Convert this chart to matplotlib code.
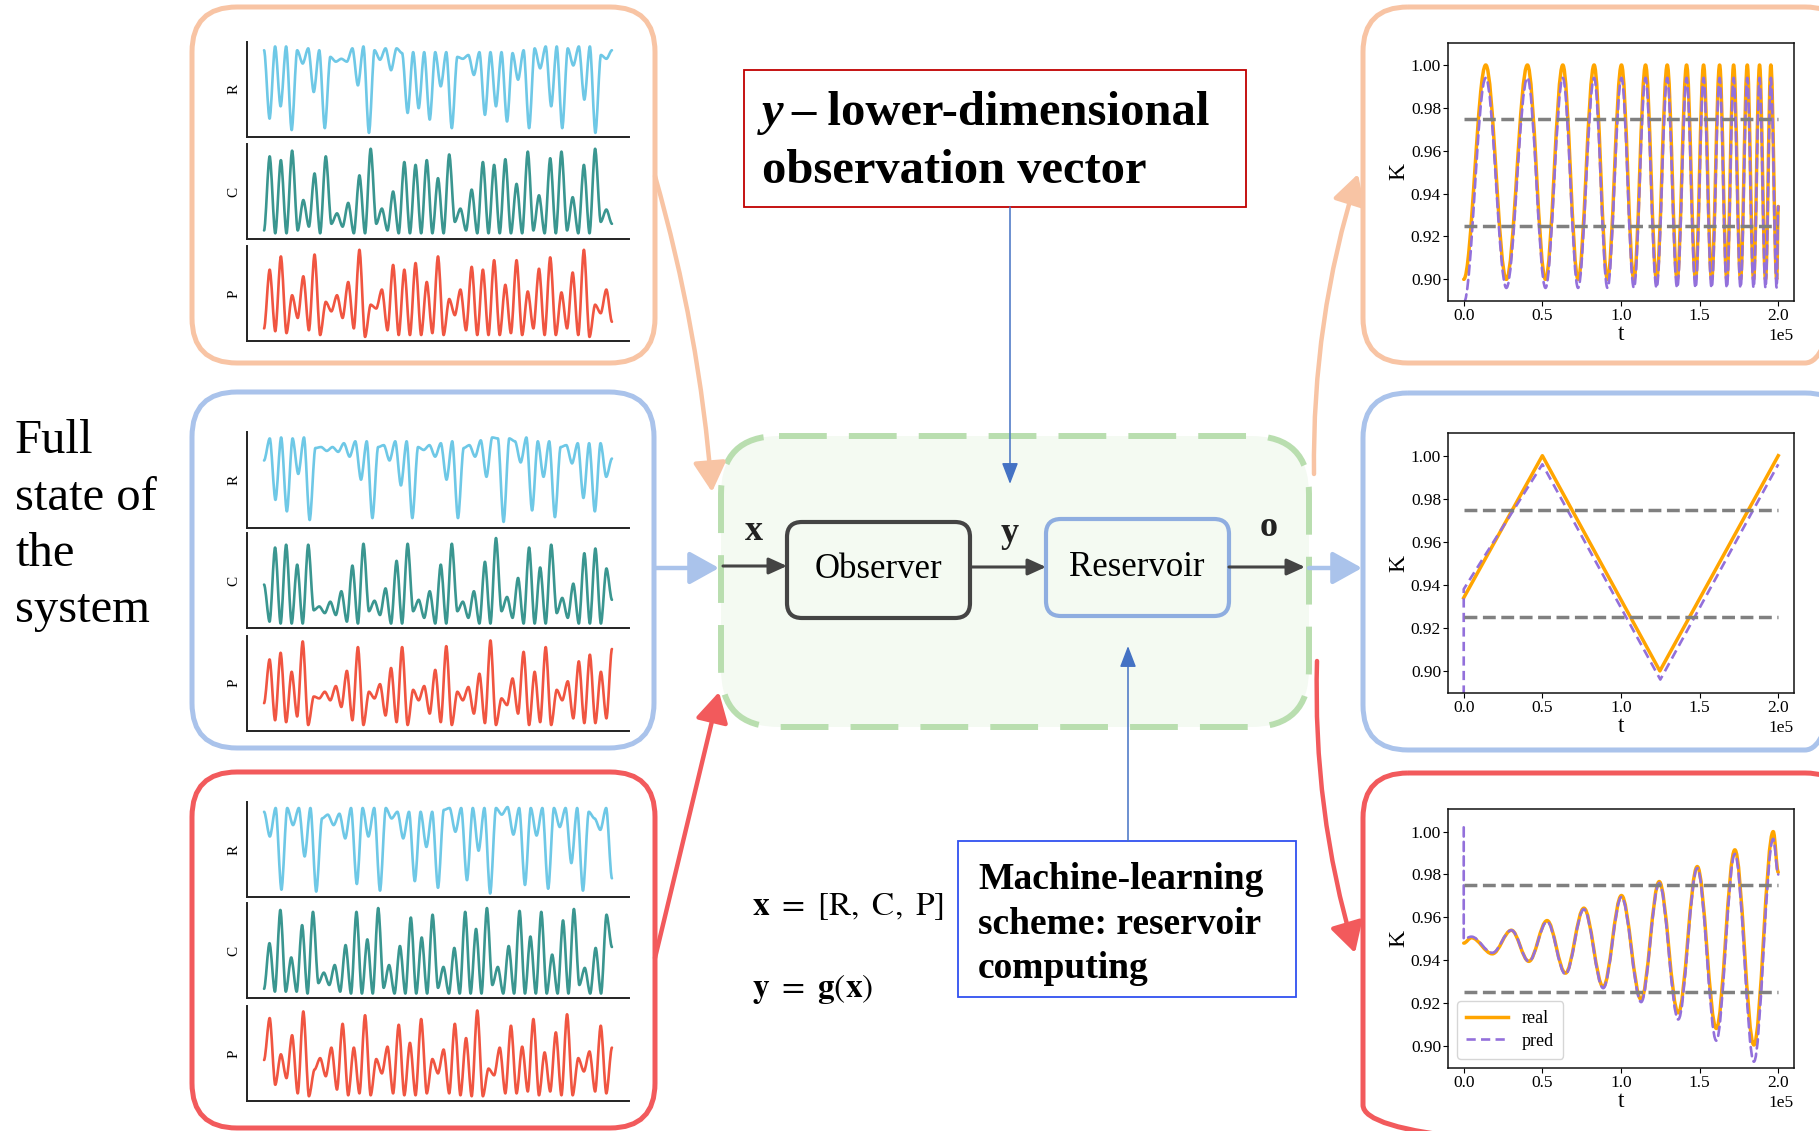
import numpy as np
import matplotlib
matplotlib.use('Agg')
import matplotlib.pyplot as plt
from matplotlib.patches import FancyBboxPatch, FancyArrowPatch, Rectangle, PathPatch
from matplotlib.path import Path
from matplotlib.lines import Line2D

W, H = 1819, 1131
plt.rcParams['font.family'] = ['Liberation Serif', 'DejaVu Serif']
plt.rcParams['mathtext.fontset'] = 'stix'

# ---- left panels: R, C, P traces, heights in % of the axis
r_top = [91, 19, 95, 32, 95, 7, 91, 77, 93, 47, 91, 9, 84, 79, 82, 79, 93, 54, 95, 4, 91, 81,
         93, 70, 93, 88, 25, 89, 30, 89, 18, 89, 53, 89, 9, 84, 82, 86, 65, 89, 23, 89, 32, 89,
         16, 88, 60, 91, 9, 93, 72, 95, 32, 95, 9, 93, 75, 95, 39, 95, 4, 86, 82, 91]
c_top = [9, 87, 6, 83, 6, 93, 9, 41, 13, 69, 6, 87, 16, 27, 13, 38, 6, 67, 6, 95, 16, 32, 9,
         50, 6, 81, 6, 78, 6, 83, 6, 64, 6, 89, 18, 32, 9, 52, 6, 81, 6, 78, 6, 84, 6, 58, 6,
         92, 9, 46, 6, 85, 6, 92, 9, 44, 6, 78, 6, 95, 18, 31, 16]
p_top = [13, 75, 10, 89, 8, 48, 24, 68, 11, 91, 6, 41, 31, 48, 24, 62, 13, 96, 4, 38, 34, 54,
         11, 80, 6, 75, 6, 82, 6, 62, 8, 89, 6, 44, 27, 54, 11, 78, 6, 75, 6, 85, 6, 59, 8, 85,
         6, 52, 13, 76, 6, 88, 6, 51, 13, 72, 6, 96, 4, 38, 29, 54, 20]

r_mid = [70, 93, 29, 94, 17, 93, 56, 94, 8, 83, 84, 80, 84, 79, 88, 74, 90, 50, 90, 10, 84, 86,
         70, 90, 44, 90, 10, 84, 81, 86, 74, 88, 50, 90, 10, 83, 86, 74, 91, 53, 94, 93, 6, 93,
         90, 68, 94, 18, 90, 53, 90, 11, 84, 86, 67, 88, 31, 88, 17, 88, 53, 72]
c_mid = [46, 7, 85, 5, 88, 5, 67, 5, 88, 19, 23, 16, 28, 14, 39, 7, 66, 5, 89, 18, 29, 14, 42,
         5, 71, 5, 89, 18, 30, 11, 39, 5, 67, 5, 89, 18, 28, 11, 39, 5, 70, 5, 95, 18, 33, 11,
         53, 5, 85, 5, 64, 5, 88, 16, 32, 11, 47, 5, 79, 5, 84, 5, 63, 30]
p_mid = [29, 75, 11, 82, 9, 62, 15, 94, 6, 36, 34, 41, 32, 47, 25, 63, 11, 88, 6, 41, 34, 49,
         16, 66, 9, 88, 6, 43, 32, 47, 18, 64, 9, 89, 6, 41, 32, 46, 18, 60, 8, 95, 6, 34, 27,
         55, 18, 83, 6, 62, 9, 88, 6, 43, 32, 52, 13, 73, 8, 80, 8, 62, 13, 86]

r_bot = [90, 64, 94, 8, 94, 76, 94, 43, 94, 6, 83, 87, 76, 88, 62, 94, 14, 94, 64, 94, 7, 94,
         83, 90, 62, 90, 17, 90, 53, 90, 10, 92, 94, 69, 94, 18, 94, 49, 94, 4, 94, 87, 95, 66,
         94, 13, 94, 65, 94, 9, 94, 74, 94, 36, 94, 7, 90, 83, 71, 94, 20]
c_bot = [10, 58, 7, 93, 7, 43, 7, 77, 5, 91, 16, 27, 14, 35, 7, 56, 5, 91, 5, 62, 5, 95, 11,
         35, 5, 55, 5, 85, 5, 64, 5, 88, 11, 33, 5, 53, 5, 91, 5, 73, 5, 95, 14, 33, 5, 55, 5,
         92, 5, 65, 5, 91, 5, 46, 5, 82, 5, 94, 14, 32, 5, 53, 5, 88, 54]
p_bot = [43, 87, 17, 49, 24, 69, 8, 94, 5, 33, 45, 26, 56, 12, 81, 6, 56, 8, 90, 6, 44, 29, 57,
         8, 80, 6, 61, 6, 86, 8, 44, 29, 54, 8, 81, 6, 66, 5, 95, 5, 34, 27, 56, 8, 79, 8, 57,
         10, 86, 6, 51, 10, 72, 6, 91, 6, 45, 31, 52, 10, 79, 8, 56]

state_labels = ['R', 'C', 'P']

# ---- right panels: K(t) turning points, t in units of 1e5
t_chirp = [0.000, 0.140, 0.271, 0.405, 0.520, 0.630, 0.727, 0.829, 0.914, 1.003, 1.082, 1.156,
           1.226, 1.294, 1.357, 1.417, 1.474, 1.525, 1.576, 1.627, 1.673, 1.716, 1.760, 1.803,
           1.843, 1.881, 1.919, 1.953, 1.990, 2.000]
k_chirp_real = [0.900, 1.000, 0.900, 1.000, 0.900, 1.000, 0.900, 1.000, 0.900, 1.000, 0.900,
                1.000, 0.900, 1.000, 0.900, 1.000, 0.900, 1.000, 0.900, 1.000, 0.900, 1.000,
                0.900, 1.000, 0.900, 1.000, 0.900, 1.000, 0.900, 0.934]
k_chirp_pred = [0.889, 0.994, 0.896, 0.994, 0.896, 0.994, 0.896, 0.994, 0.896, 0.994, 0.896,
                0.994, 0.896, 0.994, 0.896, 0.994, 0.896, 0.994, 0.896, 0.994, 0.896, 0.994,
                0.896, 0.994, 0.896, 0.994, 0.896, 0.994, 0.896, 0.934]

t_tri_real = [0.0, 0.5, 1.247, 2.0]
k_tri_real = [0.934, 1.000, 0.900, 1.000]
t_tri_pred = [0.0, 0.0, 0.5, 1.25, 2.0]
k_tri_pred = [0.889, 0.938, 0.996, 0.896, 0.996]

t_osc_real = [0.0, 0.049, 0.182, 0.303, 0.414, 0.530, 0.647, 0.764, 0.887, 1.003, 1.128, 1.243,
              1.364, 1.485, 1.606, 1.724, 1.845, 1.968, 2.0]
k_osc_real = [0.948, 0.9505, 0.943, 0.954, 0.9395, 0.9585, 0.934, 0.9643, 0.9276, 0.9702,
              0.9217, 0.9767, 0.9155, 0.9837, 0.9082, 0.9915, 0.9005, 1.000, 0.981]
t_osc_pred = [0.0, 0.0, 0.049, 0.182, 0.303, 0.414, 0.530, 0.647, 0.764, 0.887, 1.003, 1.128,
              1.243, 1.364, 1.485, 1.606, 1.724, 1.845, 1.968, 2.0]
k_osc_pred = [1.002, 0.950, 0.951, 0.9435, 0.954, 0.9395, 0.958, 0.9335, 0.9638, 0.927, 0.9695,
              0.9205, 0.976, 0.9124, 0.983, 0.9025, 0.9896, 0.8927, 0.9966, 0.980]

k_bands = [0.975, 0.925]

PEACH = '#F8C4A4'
LBLUE = '#AAC3EB'
RED = '#F25A5C'
GREEN = '#B9DEAF'
ORANGE = '#FFA500'
PURPLE = '#9370DB'

fig = plt.figure(figsize=(W / 100, H / 100), dpi=100)
bg = fig.add_axes([0, 0, 1, 1])
bg.set_xlim(0, W)
bg.set_ylim(H, 0)
bg.axis('off')


def px_axes(l, t, r, b):
    return fig.add_axes([l / W, 1 - b / H, (r - l) / W, (b - t) / H])


def rbox(x0, y0, x1, y1, color, lw, r, ls='-', fc='none', z=1):
    bg.add_patch(FancyBboxPatch((x0, y0), x1 - x0, y1 - y0,
                                boxstyle=f'round,pad=0,rounding_size={r}',
                                ec=color, fc=fc, lw=lw, ls=ls, zorder=z))


def arrow(a, b, color, lw, hl, hw, rad=0.0, ms=10, z=3):
    bg.add_patch(FancyArrowPatch(a, b, connectionstyle=f'arc3,rad={rad}',
                                 arrowstyle=f'-|>,head_length={hl},head_width={hw}',
                                 mutation_scale=ms, lw=lw, color=color,
                                 shrinkA=0, shrinkB=0, zorder=z))


def smooth_curve(ax, x, y, s, **kw):
    # bezier through the turning points, flat at each of them
    verts = [(x[0], y[0])]
    codes = [Path.MOVETO]
    for i in range(1, len(x)):
        d = x[i] - x[i - 1]
        verts += [(x[i - 1] + s * d, y[i - 1]), (x[i] - s * d, y[i]), (x[i], y[i])]
        codes += [Path.CURVE4] * 3
    ax.add_patch(PathPatch(Path(verts, codes), fill=False, capstyle='round',
                           joinstyle='round', **kw))


# ---- panel frames
rbox(192, 7, 655, 363, PEACH, 3.6, 45)
rbox(192, 392, 654, 748, LBLUE, 3.6, 45)
rbox(192, 772, 655, 1128, RED, 3.6, 45)
rbox(1363, 7, 1850, 363, PEACH, 3.6, 45)
rbox(1363, 393, 1850, 750, LBLUE, 3.6, 45)
rbox(1363, 773, 1850, 1150, RED, 3.6, 45)

# ---- left panels with R, C, P
left_sets = [
    ([(41.7, 136.7), (144, 239), (246, 340.7)], [r_top, c_top, p_top]),
    ([(431.7, 527.7), (533.3, 628.3), (635.7, 730.7)], [r_mid, c_mid, p_mid]),
    ([(802.3, 897.3), (903.3, 998.3), (1005.7, 1101)], [r_bot, c_bot, p_bot]),
]
trace_colors = ['#6EC8E6', '#3A9690', '#F05541']
for rows, series in left_sets:
    for (t, b), vals, col, lab in zip(rows, series, trace_colors, state_labels):
        ax = px_axes(247, t, 629, b)
        x = np.linspace(0, 1, len(vals))
        smooth_curve(ax, x, vals, 0.3, ec=col, lw=1.9)
        ax.set_xlim(-0.049, 1.049)
        ax.set_ylim(0, 100)
        ax.set_xticks([])
        ax.set_yticks([])
        ax.patch.set_alpha(0)
        for sp in ['top', 'right']:
            ax.spines[sp].set_visible(False)
        for sp in ['left', 'bottom']:
            ax.spines[sp].set_color('#222222')
            ax.spines[sp].set_linewidth(1.4)
        ax.set_ylabel(lab, fontsize=11, labelpad=5)

# ---- right panels with K(t)
right_sets = [
    ((42.7, 301), t_chirp, k_chirp_real, t_chirp, k_chirp_pred, True, False),
    ((433.3, 692.7), t_tri_real, k_tri_real, t_tri_pred, k_tri_pred, False, False),
    ((809.3, 1067.7), t_osc_real, k_osc_real, t_osc_pred, k_osc_pred, True, True),
]
for (t, b), tr, kr, tp, kp, smooth, show_leg in right_sets:
    ax = px_axes(1448, t, 1794, b)
    tr = np.array(tr) * 1e5
    tp = np.array(tp) * 1e5
    if smooth:
        smooth_curve(ax, tr, kr, 0.36, ec=ORANGE, lw=2.5, zorder=2)
        smooth_curve(ax, tp, kp, 0.36, ec=PURPLE, lw=1.9, ls=(0, (3.5, 2)), zorder=2.1)
    else:
        ax.plot(tr, kr, color=ORANGE, lw=2.5)
        ax.plot(tp, kp, color=PURPLE, lw=1.9, ls=(0, (3.5, 2)))
    for kb in k_bands:
        ax.plot([0, 2e5], [kb, kb], color='#808080', lw=2.5, ls='--', zorder=3)
    ax.set_xlim(-0.1e5, 2.1e5)
    ax.set_ylim(0.8899, 1.0104)
    ax.set_yticks([0.90, 0.92, 0.94, 0.96, 0.98, 1.00])
    ax.set_xticks([0, 0.5e5, 1e5, 1.5e5, 2e5])
    ax.yaxis.set_major_formatter(matplotlib.ticker.FormatStrFormatter('%.2f'))
    ax.ticklabel_format(axis='x', style='sci', scilimits=(0, 0))
    ax.tick_params(labelsize=12.5, length=3.5, width=0.8, pad=1.5)
    ax.xaxis.get_offset_text().set_fontsize(12.5)
    for sp in ax.spines.values():
        sp.set_linewidth(1.1)
        sp.set_color('#111111')
    ax.set_xlabel('t', fontsize=17, labelpad=0)
    ax.set_ylabel('K', fontsize=17, labelpad=1)
    if show_leg:
        handles = [Line2D([], [], color=ORANGE, lw=2.5),
                   Line2D([], [], color=PURPLE, lw=1.9, ls=(0, (3.5, 2)))]
        ax.legend(handles, ['real', 'pred'], loc='lower left', fontsize=13,
                  handlelength=2.3, borderpad=0.5, labelspacing=0.3)

# ---- centre block
rbox(721, 436, 1309, 727, GREEN, 4.3, 58, ls=(0, (8, 3.7)), fc='#F4FAF2', z=1)
rbox(787, 522, 970, 618, '#444444', 3.0, 15, fc='none', z=2)
rbox(1046, 519, 1229, 616, '#8EADE0', 3.0, 15, fc='none', z=2)
bg.text(878, 570, 'Observer', fontsize=25, ha='center', va='center', zorder=4)
bg.text(1137, 568, 'Reservoir', fontsize=25, ha='center', va='center', zorder=4)
bg.text(754, 532, 'x', fontsize=26, fontweight='bold', ha='center', va='center', color='#222')
bg.text(1010, 533, 'y', fontsize=26, fontweight='bold', ha='center', va='center', color='#222')
bg.text(1269, 528, 'o', fontsize=26, fontweight='bold', ha='center', va='center', color='#222')

arrow((723, 566), (787, 566), '#444444', 2.2, 1.1, 0.5)
arrow((970, 567), (1046, 567), '#444444', 2.2, 1.1, 0.5)
arrow((1229, 567), (1305, 567), '#444444', 2.2, 1.1, 0.5)

# ---- arrows between panels
arrow((655, 176), (712, 492), PEACH, 3.2, 1.8, 1.0, rad=-0.05)
arrow((655, 568), (719, 568), LBLUE, 3.2, 1.8, 1.0)
arrow((655, 958), (719, 692), RED, 3.2, 1.8, 1.0, rad=0.0)
arrow((1314, 474), (1358, 174), PEACH, 3.2, 1.8, 1.0, rad=-0.08)
arrow((1309, 568), (1362, 568), LBLUE, 3.2, 1.8, 1.0)
arrow((1317, 661), (1355, 953), RED, 3.2, 1.8, 1.0, rad=0.08)

# ---- annotation boxes
bg.add_patch(Rectangle((744, 70), 502, 137, fill=False, ec='#C00000', lw=1.3, zorder=3))
bg.text(762, 125, 'y', fontsize=35, fontweight='bold', fontstyle='italic', va='baseline')
bg.text(791, 125, '– lower-dimensional', fontsize=35, fontweight='bold', va='baseline')
bg.text(762, 183, 'observation vector', fontsize=35, fontweight='bold', va='baseline')
arrow((1010, 207), (1010, 484), '#4472C4', 1.1, 1.3, 0.5)

bg.add_patch(Rectangle((958, 841), 338, 156, fill=False, ec='#3050F0', lw=1.3, zorder=3))
for yy, line in zip([889, 933.5, 978], ['Machine-learning', 'scheme: reservoir', 'computing']):
    bg.text(978, yy, line, fontsize=27, fontweight='bold', va='baseline')
arrow((1128, 841), (1128, 646), '#4472C4', 1.1, 1.3, 0.5)

bg.text(752, 915, r'$\mathbf{x}\ =\ [\mathrm{R},\ \mathrm{C},\ \mathrm{P}]$', fontsize=24,
        va='baseline')
bg.text(752, 997, r'$\mathbf{y}\ =\ \mathbf{g}(\mathbf{x})$', fontsize=24, va='baseline')

for yy, line in zip([453, 509.5, 566, 622], ['Full', 'state of', 'the', 'system']):
    bg.text(15, yy, line, fontsize=35, va='baseline')

fig.savefig('out.png', dpi=100)
